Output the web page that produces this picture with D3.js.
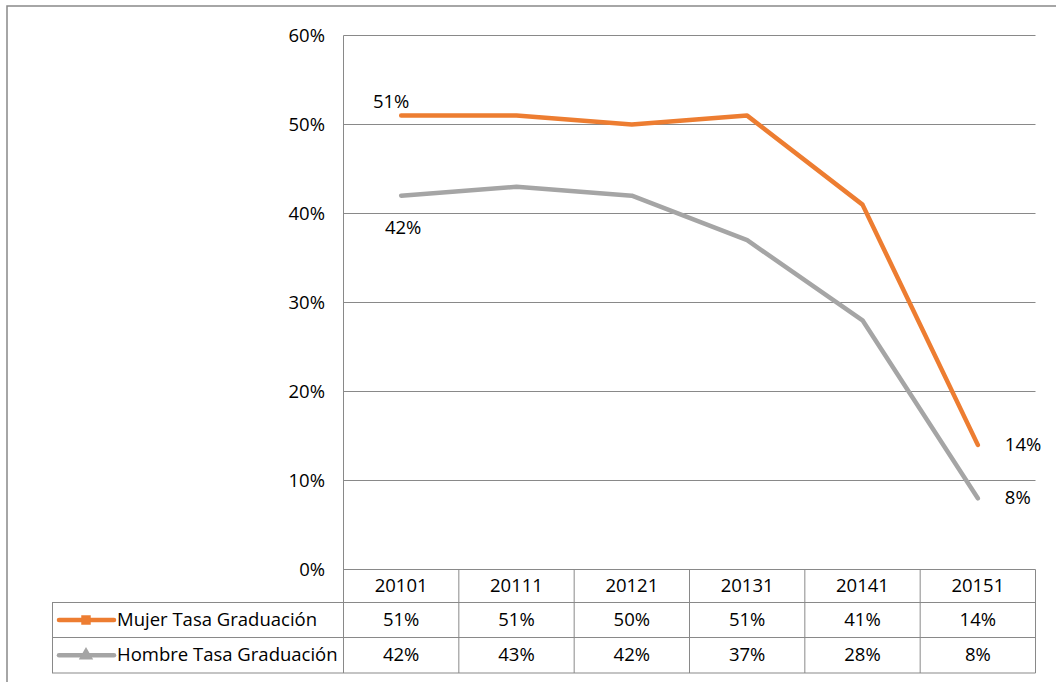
<!DOCTYPE html>
<html>
<head>
<meta charset="utf-8">
<script src="https://cdn.jsdelivr.net/npm/d3@7/dist/d3.min.js"></script>
<style>
  body { margin: 0; background: #fff; }
  text { font-family: "Open Sans", Lato, sans-serif; font-size: 18.5px; fill: #000; }
</style>
</head>
<body>
<svg id="chart" width="1056" height="682"></svg>
<script>
// Data
const categories = ['20101', '20111', '20121', '20131', '20141', '20151'];
const mujer = [0.51, 0.51, 0.50, 0.51, 0.41, 0.14];
const hombre = [0.42, 0.43, 0.42, 0.37, 0.28, 0.08];
const seriesNames = ['Mujer Tasa Graduación', 'Hombre Tasa Graduación'];
const yTicks = [0, 0.1, 0.2, 0.3, 0.4, 0.5, 0.6];

const svg = d3.select('#chart');
const gridColor = '#898989';
const colors = ['#ED7D31', '#A5A5A5'];
const pct = d3.format('.0%');

// outer frame
svg.append('rect')
  .attr('x', 7).attr('y', 6).attr('width', 1060).attr('height', 690)
  .attr('fill', 'none').attr('stroke', gridColor).attr('stroke-width', 1.5);

const plotL = 343.5, plotR = 1035.5, plotT = 35.5, plotB = 569.5;

const x = d3.scaleBand().domain(categories).range([plotL, plotR]);
const y = d3.scaleLinear().domain([0, 0.6]).range([plotB, plotT]);

// gridlines
svg.append('g').selectAll('line')
  .data(yTicks)
  .enter().append('line')
  .attr('x1', plotL).attr('x2', plotR)
  .attr('y1', (d) => y(d)).attr('y2', (d) => y(d))
  .attr('stroke', gridColor).attr('stroke-width', 1);

// y axis line
svg.append('line')
  .attr('x1', plotL).attr('x2', plotL)
  .attr('y1', plotT).attr('y2', 673)
  .attr('stroke', gridColor);

// y labels
svg.append('g').selectAll('text')
  .data(yTicks)
  .enter().append('text')
  .attr('x', 325).attr('y', (d) => y(d) + 6)
  .attr('text-anchor', 'end')
  .text((d) => pct(d));

// data table
const rowTops = [569.5, 602.5, 637.5, 673];
const tableLines = svg.append('g').attr('stroke', gridColor).attr('stroke-width', 1);
rowTops.slice(1).forEach((ry) => {
  tableLines.append('line').attr('x1', 52).attr('x2', plotR).attr('y1', ry).attr('y2', ry);
});
tableLines.append('line').attr('x1', 52.5).attr('x2', 52.5).attr('y1', rowTops[1]).attr('y2', rowTops[3]);
categories.forEach((c) => {
  tableLines.append('line')
    .attr('x1', x(c) + x.bandwidth()).attr('x2', x(c) + x.bandwidth())
    .attr('y1', rowTops[0]).attr('y2', rowTops[3]);
});

// category row
svg.append('g').selectAll('text')
  .data(categories)
  .enter().append('text')
  .attr('x', (d) => x(d) + x.bandwidth() / 2)
  .attr('y', (rowTops[0] + rowTops[1]) / 2 + 6)
  .attr('text-anchor', 'middle')
  .text((d) => d);

// value rows
[mujer, hombre].forEach((vals, i) => {
  const cy = (rowTops[i + 1] + rowTops[i + 2]) / 2;
  svg.append('g').selectAll('text')
    .data(vals)
    .enter().append('text')
    .attr('x', (d, j) => x(categories[j]) + x.bandwidth() / 2)
    .attr('y', cy + 6)
    .attr('text-anchor', 'middle')
    .text((d) => pct(d));

  // legend key
  svg.append('line')
    .attr('x1', 59).attr('x2', 114).attr('y1', cy).attr('y2', cy)
    .attr('stroke', colors[i]).attr('stroke-width', 4.5).attr('stroke-linecap', 'round');
  svg.append('path')
    .attr('transform', `translate(86,${cy})`)
    .attr('d', d3.symbol().type(i === 0 ? d3.symbolSquare : d3.symbolTriangle).size(90)())
    .attr('fill', colors[i]);
  svg.append('text')
    .attr('x', 117).attr('y', cy + 6)
    .text(seriesNames[i]);
});

// lines
const line = d3.line()
  .x((d, j) => x(categories[j]) + x.bandwidth() / 2)
  .y((d) => y(d));

[mujer, hombre].forEach((vals, i) => {
  svg.append('path')
    .datum(vals)
    .attr('d', line)
    .attr('fill', 'none')
    .attr('stroke', colors[i])
    .attr('stroke-width', 4.5)
    .attr('stroke-linejoin', 'round')
    .attr('stroke-linecap', 'round');
});

// data labels
const last = categories.length - 1;
const cx0 = x(categories[0]) + x.bandwidth() / 2;
const cxN = x(categories[last]) + x.bandwidth() / 2;
svg.append('text').attr('x', cx0 - 10).attr('y', y(mujer[0]) - 8)
  .attr('text-anchor', 'middle').text(pct(mujer[0]));
svg.append('text').attr('x', cx0 + 2).attr('y', y(hombre[0]) + 38)
  .attr('text-anchor', 'middle').text(pct(hombre[0]));
svg.append('text').attr('x', cxN + 27).attr('y', y(mujer[last]) + 6)
  .text(pct(mujer[last]));
svg.append('text').attr('x', cxN + 27).attr('y', y(hombre[last]) + 6)
  .text(pct(hombre[last]));
</script>
</body>
</html>
